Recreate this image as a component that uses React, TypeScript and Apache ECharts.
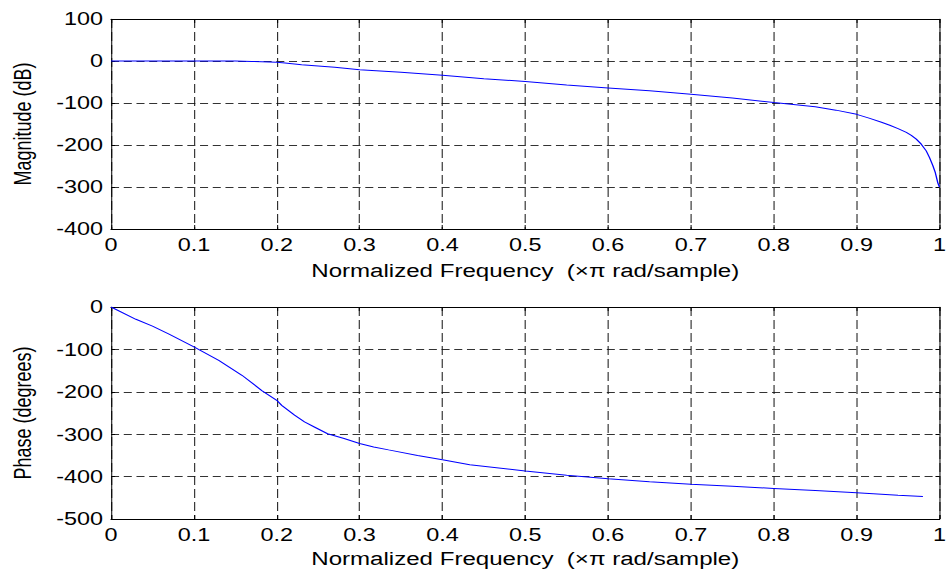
import React, { useEffect, useRef } from "react";
import * as echarts from "echarts";

// ---- data ----
const magFreq = [0, 0.05, 0.1, 0.15, 0.17, 0.2, 0.21, 0.23, 0.25, 0.27, 0.3, 0.35, 0.4, 0.45, 0.5, 0.55, 0.6, 0.65, 0.7, 0.75, 0.8, 0.85, 0.875, 0.9, 0.915, 0.93, 0.94, 0.95, 0.96, 0.966, 0.972, 0.978, 0.984, 0.988, 0.992, 0.995, 0.998, 1.0];
const magDb = [0, 0, 0, 0, -1, -3, -5, -9, -12, -15, -21, -27, -34, -42, -49, -57, -64, -71, -79, -88, -99, -109, -117, -127, -136, -146, -153, -161, -170, -177, -186, -198, -214, -230, -249, -266, -290, -300];

const phFreq = [0, 0.03, 0.05, 0.07, 0.1, 0.13, 0.158, 0.182, 0.2, 0.206, 0.2215, 0.2335, 0.2454, 0.2614, 0.2813, 0.3, 0.317, 0.335, 0.37, 0.4, 0.433, 0.5, 0.55, 0.6, 0.65, 0.7, 0.75, 0.8, 0.85, 0.9, 0.95, 0.98];
const phDeg = [0, -29, -45, -64, -94, -126, -161, -197, -220, -232, -255, -271, -283, -299, -310, -322, -330, -337, -350, -360, -372, -387, -397, -405, -412, -418, -423, -428, -433, -438, -444, -447];

const xTitle = "Normalized Frequency  (\u00d7\u03c0 rad/sample)";
const magTitle = "Magnitude (dB)";
const phTitle = "Phase (degrees)";

const magRange = { min: -400, max: 100 };
const phRange = { min: -500, max: 0 };

const FONT = '"Liberation Sans", Arial, Helvetica, sans-serif';
const CHART_W = 710;
const SCALE = 950 / CHART_W;

function xAx(grid: number, pos: string, main: boolean, gap: number) {
  return {
    type: "value",
    gridIndex: grid,
    position: pos,
    min: 0,
    max: 1,
    interval: 0.1,
    axisLine: { show: true, onZero: false, lineStyle: { color: "#000", width: 1 } },
    axisTick: { show: true, inside: true, length: 4, lineStyle: { color: "#000", width: 0.75 } },
    axisLabel: main
      ? {
          show: true,
          margin: 7,
          color: "#000",
          fontSize: 17.5,
          fontFamily: FONT,
          formatter: (v: number) => String(Math.round(v * 10) / 10),
        }
      : { show: false },
    splitLine: main
      ? { show: true, lineStyle: { color: "#111", type: [9, 4], width: 0.75 } }
      : { show: false },
    name: main ? xTitle : "",
    nameLocation: "middle",
    nameGap: gap,
    nameTextStyle: { color: "#000", fontSize: 18, fontFamily: FONT },
  };
}

function yAx(grid: number, pos: string, main: boolean, range: { min: number; max: number }, title: string) {
  return {
    type: "value",
    gridIndex: grid,
    position: pos,
    min: range.min,
    max: range.max,
    interval: 100,
    axisLine: { show: true, onZero: false, lineStyle: { color: "#000", width: 0.75 } },
    axisTick: { show: true, inside: true, length: 3, lineStyle: { color: "#000", width: 1 } },
    axisLabel: main
      ? { show: true, margin: 6, color: "#000", fontSize: 17.5, fontFamily: FONT }
      : { show: false },
    splitLine: main
      ? { show: true, lineStyle: { color: "#333", type: [6, 3.5], width: 1 } }
      : { show: false },
    name: main ? title : "",
    nameLocation: "middle",
    nameRotate: 90,
    nameGap: 57,
    nameTextStyle: { color: "#000", fontSize: 18, fontFamily: FONT },
  };
}

export default function App() {
  const ref = useRef<HTMLDivElement>(null);
  useEffect(() => {
    if (!ref.current) return;
    const chart = echarts.init(ref.current, null, { renderer: "svg" });
    chart.setOption({
      animation: false,
      backgroundColor: "#fff",
      grid: [
        { left: 80.7, right: 4, top: 19, height: 210, containLabel: false },
        { left: 80.7, right: 4, top: 307, height: 212, containLabel: false },
      ],
      xAxis: [
        xAx(0, "bottom", true, 33),
        xAx(0, "top", false, 0),
        xAx(1, "bottom", true, 31),
        xAx(1, "top", false, 0),
      ],
      yAxis: [
        yAx(0, "left", true, magRange, magTitle),
        yAx(0, "right", false, magRange, ""),
        yAx(1, "left", true, phRange, phTitle),
        yAx(1, "right", false, phRange, ""),
      ],
      series: [
        {
          type: "line",
          xAxisIndex: 0,
          yAxisIndex: 0,
          data: magFreq.map((f, i) => [f, magDb[i]]),
          showSymbol: false,
          lineStyle: { color: "#0000ff", width: 1 },
          smooth: false,
        },
        {
          type: "line",
          xAxisIndex: 2,
          yAxisIndex: 2,
          data: phFreq.map((f, i) => [f, phDeg[i]]),
          showSymbol: false,
          lineStyle: { color: "#0000ff", width: 1 },
          smooth: false,
        },
      ],
    });
    return () => chart.dispose();
  }, []);
  return (
    <div
      style={{
        position: "fixed",
        left: 0,
        top: 0,
        width: 950,
        height: 570,
        overflow: "hidden",
        background: "#fff",
      }}
    >
      <div
        ref={ref}
        style={{
          width: CHART_W,
          height: 570,
          transform: `scaleX(${SCALE})`,
          transformOrigin: "0 0",
        }}
      />
    </div>
  );
}
